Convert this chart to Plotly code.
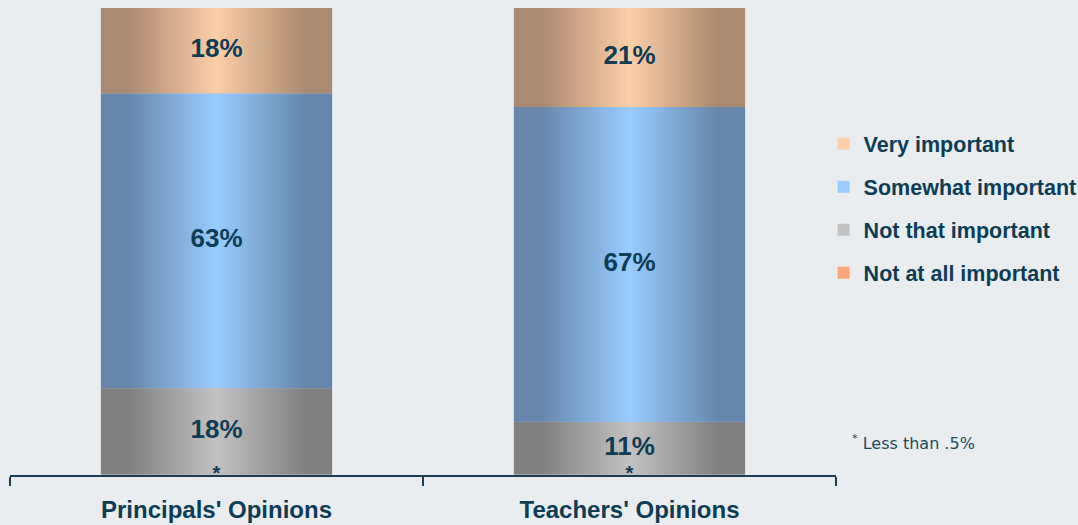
import plotly.graph_objects as go

# categories and stacked shares (percent, bottom to top)
categories = ["Principals' Opinions", "Teachers' Opinions"]
levels = ["Not at all important", "Not that important", "Somewhat important", "Very important"]
principals = [0.1, 18.5, 63.1, 18.3]
teachers = [0.1, 11.3, 67.4, 21.2]
values = [principals, teachers]

# edge / centre colours for the cylinder-like gradient
edge_colors = ["#e8603a", "#808080", "#6687ab", "#aa8a70"]
mid_colors = ["#ffa57a", "#c2c2c2", "#99ccff", "#fdcea8"]

text_color = "#0d3c55"
bg = "#e9edef"
font = "Liberation Sans, Arial, sans-serif"
bar_w = 0.56

fig = go.Figure()

# plain stacked bars (carry data + legend)
for i, lev in enumerate(levels):
    fig.add_trace(go.Bar(
        x=[0, 1],
        y=[v[i] for v in values],
        width=bar_w,
        name=lev,
        legendgroup=lev,
        legendrank=len(levels) - i,
        marker=dict(color=mid_colors[i], line=dict(width=0)),
        hoverinfo="skip",
    ))

# gradient overlay for each segment
for c, vals in enumerate(values):
    base = 0
    for i, v in enumerate(vals):
        x0, x1 = c - bar_w / 2, c + bar_w / 2
        fig.add_trace(go.Scatter(
            x=[x0, x1, x1, x0, x0],
            y=[base, base, base + v, base + v, base],
            mode="lines",
            fill="toself",
            line=dict(width=0),
            fillgradient=dict(
                type="horizontal",
                colorscale=[[0, edge_colors[i]], [0.12, edge_colors[i]],
                            [0.5, mid_colors[i]], [0.88, edge_colors[i]],
                            [1, edge_colors[i]]],
            ),
            showlegend=False,
            hoverinfo="skip",
        ))
        base += v

# percentage labels
lx, ly, lt = [], [], []
sx, sy = [], []
for c, vals in enumerate(values):
    base = 0
    for v in vals:
        if v >= 0.5:
            lx.append(c)
            ly.append(base + v / 2)
            lt.append(f"{round(v)}%")
        else:
            sx.append(c)
            sy.append(base)
        base += v

fig.add_trace(go.Scatter(
    x=lx, y=ly, text=lt, mode="text", showlegend=False, hoverinfo="skip",
    textfont=dict(family=font, size=26, color=text_color, weight="bold"),
))
fig.add_trace(go.Scatter(
    x=sx, y=sy, text=["*"] * len(sx), mode="text", textposition="middle center",
    showlegend=False, hoverinfo="skip",
    textfont=dict(family=font, size=20, color=text_color, weight="bold"),
))

fig.add_annotation(
    xref="paper", yref="paper", x=1.017, y=0.07, xanchor="left", yanchor="middle",
    text="<sup>*</sup> Less than .5%", showarrow=False,
    font=dict(family="DejaVu Sans, sans-serif", size=16, color="#1f4a62"),
)

fig.update_layout(
    barmode="stack",
    width=1078, height=525,
    margin=dict(l=10, r=242, t=8, b=50, autoexpand=False),
    paper_bgcolor=bg, plot_bgcolor=bg,
    showlegend=True,
    legend=dict(
        x=0.985, xanchor="left", y=0.753, yanchor="top",
        traceorder="grouped", tracegroupgap=12,
        font=dict(family=font, size=21.5, color=text_color, weight="bold"),
        bgcolor="rgba(0,0,0,0)", itemwidth=30,
    ),
    xaxis=dict(
        range=[-0.5, 1.5], tickvals=[0, 1], ticktext=categories,
        ticks="", showgrid=False, zeroline=False, layer="above traces",
        showline=True, linecolor="#1c3d52", linewidth=2,
        ticklabelstandoff=12,
        tickfont=dict(family=font, size=24, color=text_color, weight="bold"),
        minor=dict(tickvals=[-0.5, 0.5, 1.5], ticks="outside", ticklen=9,
                   tickcolor="#1c3d52", tickwidth=2, showgrid=False),
    ),
    yaxis=dict(range=[0, 100], visible=False, showgrid=False),
)

fig.write_html("out.html", config={"displayModeBar": False},
               post_script="document.body.style.margin='0';")
